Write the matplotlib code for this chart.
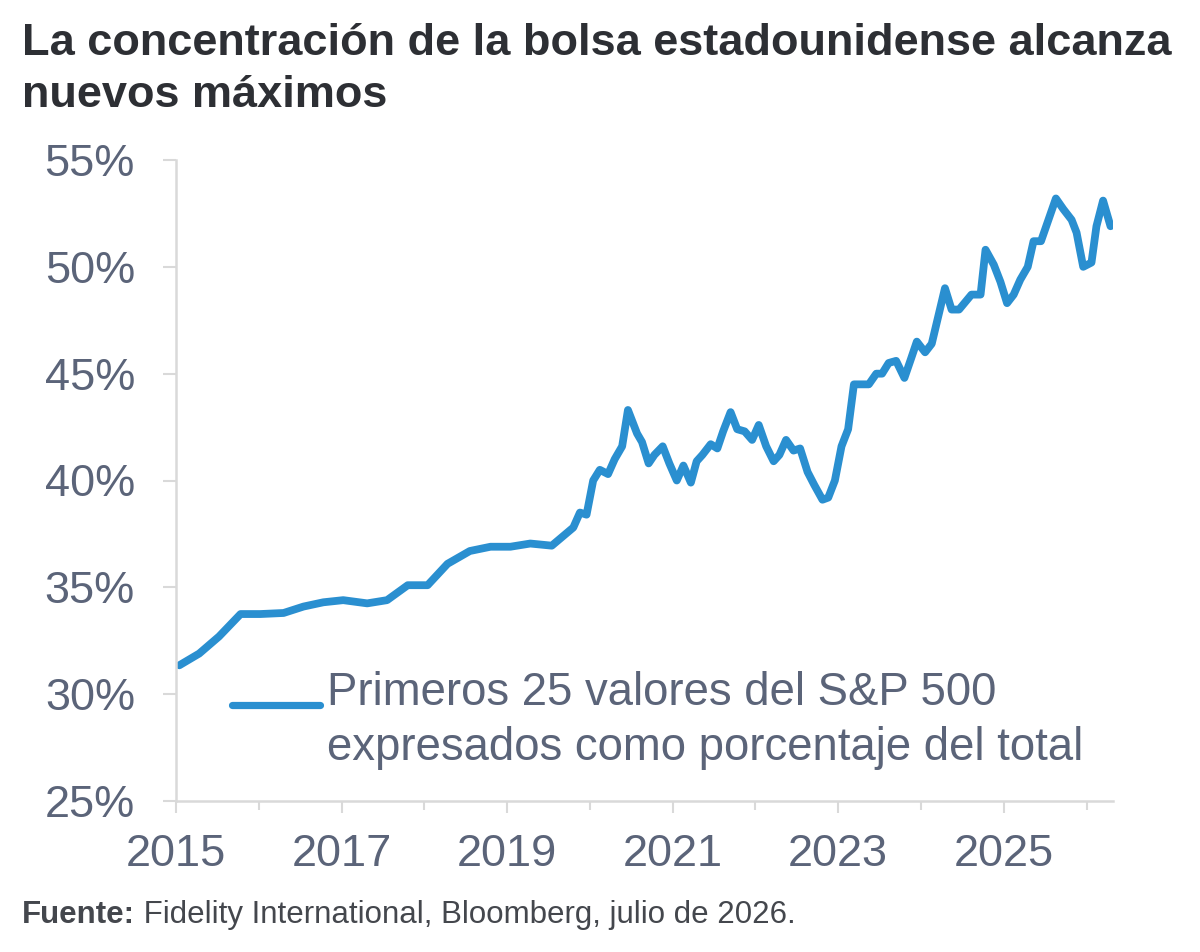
import numpy as np
import matplotlib
matplotlib.use("Agg")
import matplotlib.pyplot as plt
from matplotlib.lines import Line2D
from matplotlib.ticker import MultipleLocator, FuncFormatter

plt.rcParams['font.family'] = ['Liberation Sans', 'DejaVu Sans']

# fecha (años decimales) y peso de los 25 primeros valores (%)
years = [2015.04, 2015.28, 2015.52, 2015.78, 2016.02, 2016.30, 2016.54, 2016.78,
         2017.02, 2017.31, 2017.55, 2017.80, 2018.04, 2018.28, 2018.55, 2018.80,
         2019.04, 2019.28, 2019.54, 2019.80, 2019.88, 2019.96, 2020.04, 2020.12,
         2020.22, 2020.30, 2020.39, 2020.46, 2020.57, 2020.63, 2020.71, 2020.78,
         2020.88, 2020.96, 2021.05, 2021.13, 2021.22, 2021.29, 2021.36, 2021.46,
         2021.54, 2021.61, 2021.70, 2021.78, 2021.87, 2021.96, 2022.04, 2022.13,
         2022.22, 2022.29, 2022.37, 2022.46, 2022.54, 2022.63, 2022.71, 2022.81,
         2022.88, 2022.96, 2023.04, 2023.12, 2023.19, 2023.28, 2023.37, 2023.46,
         2023.53, 2023.61, 2023.70, 2023.80, 2023.88, 2023.95, 2024.05, 2024.13,
         2024.29, 2024.37, 2024.46, 2024.61, 2024.72, 2024.78, 2024.88, 2024.96,
         2025.04, 2025.12, 2025.20, 2025.29, 2025.36, 2025.45, 2025.63, 2025.72,
         2025.82, 2025.88, 2025.96, 2026.06, 2026.12, 2026.20, 2026.29]
top25 = [31.35, 31.9, 32.7, 33.75, 33.75, 33.8, 34.1, 34.3,
         34.4, 34.25, 34.4, 35.1, 35.1, 36.1, 36.7, 36.9,
         36.9, 37.05, 36.95, 37.8, 38.5, 38.4, 40.0, 40.5,
         40.3, 41.0, 41.6, 43.3, 42.2, 41.8, 40.8, 41.2,
         41.6, 40.8, 40.0, 40.7, 39.9, 40.9, 41.2, 41.7,
         41.5, 42.3, 43.2, 42.4, 42.3, 41.9, 42.6, 41.6,
         40.9, 41.2, 41.9, 41.4, 41.5, 40.4, 39.8, 39.1,
         39.2, 40.0, 41.6, 42.4, 44.5, 44.5, 44.5, 45.0,
         45.0, 45.5, 45.6, 44.8, 45.7, 46.5, 46.0, 46.4,
         49.0, 48.0, 48.0, 48.7, 48.7, 50.8, 50.1, 49.3,
         48.3, 48.7, 49.4, 50.0, 51.2, 51.2, 53.2, 52.7,
         52.2, 51.6, 50.0, 50.2, 51.9, 53.1, 51.9]

label_lines = ["Primeros 25 valores del S&P 500",
               "expresados como porcentaje del total"]
title_lines = ["La concentración de la bolsa estadounidense alcanza",
               "nuevos máximos"]
source_bold = "Fuente:"
source_rest = " Fidelity International, Bloomberg, julio de 2026."

blue = "#2a8fd0"
grey_txt = "#5b6479"
axis_grey = "#d9d9d9"
W, H = 1200, 952

fig = plt.figure(figsize=(12, 9.52), dpi=100)
ax = fig.add_axes([176/W, 1-801/H, (1113-176)/W, (801-160)/H])

ax.plot(years, top25, color=blue, lw=5.6, solid_joinstyle='round',
        solid_capstyle='round')

ax.set_xlim(2015, 2026.32)
ax.set_ylim(25, 55)
ax.yaxis.set_major_locator(MultipleLocator(5))
ax.yaxis.set_major_formatter(FuncFormatter(lambda v, p: f"{v:.0f}%"))
ax.xaxis.set_major_locator(MultipleLocator(2, offset=1))
ax.xaxis.set_minor_locator(MultipleLocator(1))
ax.xaxis.set_major_formatter(FuncFormatter(lambda v, p: f"{v:.0f}"))

for s in ['top', 'right']:
    ax.spines[s].set_visible(False)
for s in ['left', 'bottom']:
    ax.spines[s].set_color(axis_grey)
    ax.spines[s].set_linewidth(1.8)

ax.tick_params(axis='y', which='major', length=9.5, width=1.5, color=axis_grey,
               labelsize=32.5, labelcolor=grey_txt, pad=20)
ax.tick_params(axis='x', which='major', length=8.6, width=1.5, color=axis_grey,
               labelsize=32.5, labelcolor=grey_txt, pad=15)
ax.tick_params(axis='x', which='minor', length=6.5, width=1.5, color=axis_grey)

# leyenda dibujada a mano: muestra de línea alineada con la primera línea
key = Line2D([232/W, 320/W], [1-705/H, 1-705/H], transform=fig.transFigure,
             color=blue, lw=5.2, solid_capstyle='round')
fig.add_artist(key)
for i, line in enumerate(label_lines):
    fig.text(327/W, 1-(705+55*i)/H, line, fontsize=32.8, color=grey_txt,
             va='baseline', ha='left')

for i, line in enumerate(title_lines):
    fig.text(22/W, 1-(55+52*i)/H, line, fontsize=32.5, fontweight='bold',
             color="#2d2f34", va='baseline', ha='left')

t1 = fig.text(22/W, 1-923/H, source_bold, fontsize=22.5, fontweight='bold',
              color="#44474d", va='baseline', ha='left')
fig.canvas.draw()
bb = t1.get_window_extent()
fig.text(bb.x1/W, 1-923/H, source_rest, fontsize=22.5, color="#44474d",
         va='baseline', ha='left')

fig.savefig("out.png", dpi=100)
